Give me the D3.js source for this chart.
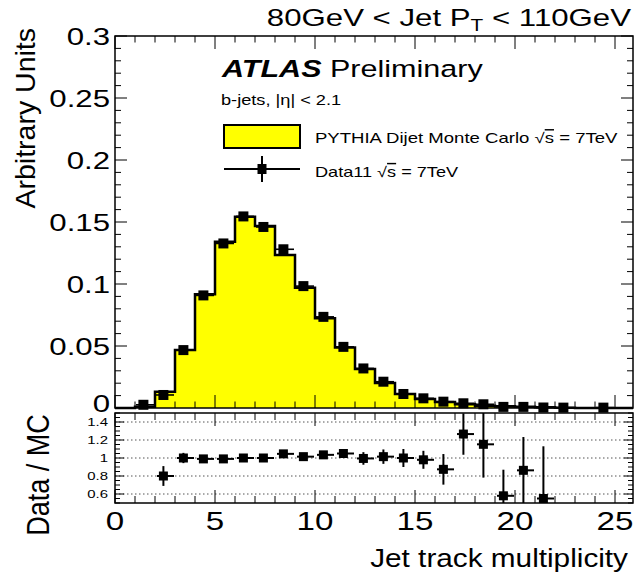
<!DOCTYPE html>
<html>
<head>
<meta charset="utf-8">
<script src="https://cdn.jsdelivr.net/npm/d3@7"></script>
<style>
  body { margin: 0; background: #fff; }
  text { font-family: "Liberation Sans", Arial, Helvetica, sans-serif; fill: #000; }
</style>
</head>
<body>
<svg id="chart" width="635" height="574"></svg>
<script>
// bin low edges (Jet track multiplicity), each bin is 1 wide
const bins = [0, 1, 2, 3, 4, 5, 6, 7, 8, 9, 10, 11, 12, 13, 14, 15, 16, 17, 18, 19, 20, 21, 22, 23, 24, 25];
// PYTHIA MC histogram (arbitrary units)
const mcValues = [0, 0.0010, 0.0131, 0.0467, 0.0917, 0.1340, 0.1542, 0.1467, 0.1233, 0.0970, 0.0724, 0.0488, 0.0314,
  0.0201, 0.0113, 0.0072, 0.0048, 0.0030, 0.0019, 0.0015, 0.0010, 0.0007, 0.0003, 0.0001, 0.0001, 0];
// Data11 points (null = no point)
const dataValues = [null, 0.0026, 0.0105, 0.0467, 0.0908, 0.1327, 0.1545, 0.1460, 0.1280, 0.0983, 0.0735, 0.0493, 0.0319,
  0.0212, 0.0113, 0.0078, 0.0051, 0.0038, 0.0030, 0.0009, 0.0009, 0.0004, 0.0003, null, 0.0003, null];
const dataErrors = [null, 0.0004, 0.0012, 0.0015, 0.002, 0.002, 0.002, 0.002, 0.002, 0.002, 0.002, 0.0015, 0.0015,
  0.0012, 0.001, 0.0007, 0.0006, 0.0006, 0.0006, 0.0004, 0.0004, 0.0004, 0.0003, null, 0.0002, null];

// Data / MC ratio
const ratioBins = [2, 3, 4, 5, 6, 7, 8, 9, 10, 11, 12, 13, 14, 15, 16, 17, 18, 19, 20, 21];
const ratioValues = [0.80, 1.00, 0.99, 0.99, 1.00, 1.00, 1.046, 1.015, 1.035, 1.05, 0.995, 1.015, 1.00, 0.98,
  0.874, 1.266, 1.152, 0.58, 0.863, 0.55];
const ratioErrors = [0.11, 0.057, 0.04, 0.025, 0.02, 0.02, 0.025, 0.03, 0.035, 0.04, 0.07, 0.08, 0.10, 0.10,
  0.17, 0.23, 0.37, 0.29, 0.37, 0.58];

// tick labels
const xTickLabels = [0, 5, 10, 15, 20, 25];
const yTickLabels = [0, 0.05, 0.1, 0.15, 0.2, 0.25, 0.3];
const ratioTickLabels = [0.6, 0.8, 1, 1.2, 1.4];

const svg = d3.select("#chart");
const left = 115, right = 633;
const x = d3.scaleLinear().domain([0, 25.9]).range([left, right]);
const y = d3.scaleLinear().domain([0, 0.3]).range([408, 36]);
const yr = d3.scaleLinear().domain([0.5, 1.5]).range([503, 413]);
const sx = 1.3; // glyphs in the picture are horizontally stretched
const markerOffset = 0.42;

function stretchText(px, py, str, size, anchor, k) {
  return svg.append("text")
    .attr("transform", `translate(${px},${py}) scale(${k || sx},1)`)
    .attr("font-size", size)
    .attr("text-anchor", anchor || "start")
    .text(str);
}

// ---- top panel: MC histogram ----
const histPts = bins.map((b, i) => ({ x: b, y: mcValues[i] }));
histPts.push({ x: 25.9, y: 0 });

svg.append("path")
  .datum(histPts)
  .attr("fill", "#ffff00")
  .attr("d", d3.area().x(d => x(d.x)).y0(y(0)).y1(d => y(d.y)).curve(d3.curveStepAfter));

svg.append("path")
  .datum(histPts)
  .attr("fill", "none")
  .attr("stroke", "#000")
  .attr("stroke-width", 2.5)
  .attr("d", d3.line().x(d => x(d.x)).y(d => y(d.y)).curve(d3.curveStepAfter));

// ---- ticks ----
function drawTicks(yScale, top, bottom, yMajor, yMinor, majorLen, minorLen, xMajLen, xMinLen) {
  const g = svg.append("g").attr("stroke", "#000").attr("stroke-width", 1);
  for (let v = 0; v <= 25.9; v += 1) {
    const isMaj = v % 5 === 0;
    const len = isMaj ? xMajLen : xMinLen;
    g.append("line").attr("x1", x(v)).attr("x2", x(v)).attr("y1", bottom).attr("y2", bottom - len);
    g.append("line").attr("x1", x(v)).attr("x2", x(v)).attr("y1", top).attr("y2", top + len);
  }
  yMinor.forEach(v => {
    const isMaj = yMajor.some(m => Math.abs(m - v) < 1e-6);
    const len = isMaj ? majorLen : minorLen;
    g.append("line").attr("x1", left).attr("x2", left + len).attr("y1", yScale(v)).attr("y2", yScale(v));
    g.append("line").attr("x1", right).attr("x2", right - len).attr("y1", yScale(v)).attr("y2", yScale(v));
  });
}
drawTicks(y, 36, 408, yTickLabels, d3.range(0, 0.3001, 0.01), 12, 6, 13, 6.5);

// ---- data points top panel ----
const dataPts = bins.map((b, i) => ({ b, v: dataValues[i], e: dataErrors[i] })).filter(d => d.v !== null);
const dg = svg.append("g").attr("stroke", "#000").attr("stroke-width", 1.6);
dataPts.forEach(d => {
  dg.append("line").attr("x1", x(d.b + 0.05)).attr("x2", x(d.b + 0.95)).attr("y1", y(d.v)).attr("y2", y(d.v));
  dg.append("line").attr("x1", x(d.b + markerOffset)).attr("x2", x(d.b + markerOffset))
    .attr("y1", y(d.v + d.e)).attr("y2", y(Math.max(0, d.v - d.e)));
});
svg.append("g").selectAll("rect").data(dataPts).join("rect")
  .attr("x", d => x(d.b + markerOffset) - 5).attr("y", d => y(d.v) - 5)
  .attr("width", 10).attr("height", 10).attr("fill", "#000");

// frame
svg.append("rect").attr("x", left).attr("y", 36).attr("width", right - left).attr("height", 408 - 36)
  .attr("fill", "none").attr("stroke", "#000").attr("stroke-width", 1.5);

// ---- ratio panel ----
const rg = svg.append("g");
ratioTickLabels.forEach(v => {
  rg.append("line").attr("x1", left).attr("x2", right).attr("y1", yr(v)).attr("y2", yr(v))
    .attr("stroke", "#555").attr("stroke-width", 1).attr("stroke-dasharray", "1.5,2.5");
});
drawTicks(yr, 413, 503, ratioTickLabels, d3.range(0.5, 1.5001, 0.05), 9, 5, 13, 7);

svg.append("clipPath").attr("id", "rclip").append("rect")
  .attr("x", left).attr("y", 413).attr("width", right - left).attr("height", 90);
const rp = svg.append("g").attr("clip-path", "url(#rclip)");
const ratioPts = ratioBins.map((b, i) => ({ b, v: ratioValues[i], e: ratioErrors[i] }));
ratioPts.forEach(d => {
  rp.append("line").attr("x1", x(d.b + 0.1)).attr("x2", x(d.b + 0.95)).attr("y1", yr(d.v)).attr("y2", yr(d.v))
    .attr("stroke", "#000").attr("stroke-width", 2);
  rp.append("line").attr("x1", x(d.b + markerOffset)).attr("x2", x(d.b + markerOffset))
    .attr("y1", yr(d.v + d.e)).attr("y2", yr(d.v - d.e)).attr("stroke", "#000").attr("stroke-width", 2);
});
rp.selectAll("rect.m").data(ratioPts).join("rect")
  .attr("class", "m")
  .attr("x", d => x(d.b + markerOffset) - 4.5).attr("y", d => yr(d.v) - 4.5)
  .attr("width", 9).attr("height", 9).attr("fill", "#000");

svg.append("rect").attr("x", left).attr("y", 413).attr("width", right - left).attr("height", 90)
  .attr("fill", "none").attr("stroke", "#000").attr("stroke-width", 1.5);

// ---- axis labels ----
yTickLabels.forEach(v => {
  // the "0" label sits a little higher so it clears the ratio panel labels
  stretchText(110, y(v) + (v === 0 ? 4 : 8.5), String(v), 24, "end");
});
ratioTickLabels.forEach(v => {
  stretchText(108, yr(v) + 4, String(v), 11.5, "end");
});
xTickLabels.forEach(v => {
  stretchText(x(v), 530, String(v), 25.5, "middle");
});

stretchText(628, 567, "Jet track multiplicity", 25, "end", 1.19);

svg.append("text")
  .attr("transform", "translate(35,28) rotate(-90)")
  .attr("font-size", 28.5).attr("text-anchor", "end")
  .text("Arbitrary Units");

svg.append("text")
  .attr("transform", "translate(49,475) rotate(-90) scale(1,1.15)")
  .attr("font-size", 27).attr("text-anchor", "middle")
  .text("Data / MC");

// title
const title = stretchText(631, 26, "", 24, "end");
title.append("tspan").text("80GeV < Jet P");
title.append("tspan").attr("font-size", 16).attr("dy", 5).text("T");
title.append("tspan").attr("dy", -5).text(" < 110GeV");

// ATLAS Preliminary
stretchText(222, 77, "ATLAS", 23.5).attr("font-weight", "bold").attr("font-style", "italic");
stretchText(330, 77, "Preliminary", 23.5);
stretchText(221, 105, "b-jets, |η| < 2.1", 14);

// legend
svg.append("rect").attr("x", 224).attr("y", 125).attr("width", 76).attr("height", 23)
  .attr("fill", "#ffff00").attr("stroke", "#000").attr("stroke-width", 2);
const l1 = stretchText(315, 143, "", 14.5, "start", 1.28);
l1.append("tspan").text("PYTHIA Dijet Monte Carlo √");
l1.append("tspan").attr("text-decoration", "overline").text("s");
l1.append("tspan").text(" = 7TeV");

svg.append("line").attr("x1", 224).attr("x2", 300).attr("y1", 169).attr("y2", 169)
  .attr("stroke", "#000").attr("stroke-width", 2);
svg.append("line").attr("x1", 262).attr("x2", 262).attr("y1", 156).attr("y2", 182)
  .attr("stroke", "#000").attr("stroke-width", 2);
svg.append("rect").attr("x", 257.5).attr("y", 164).attr("width", 9).attr("height", 10).attr("fill", "#000");
const l2 = stretchText(315, 177, "", 14.5, "start", 1.25);
l2.append("tspan").text("Data11 √");
l2.append("tspan").attr("text-decoration", "overline").text("s");
l2.append("tspan").text(" = 7TeV");
</script>
</body>
</html>
